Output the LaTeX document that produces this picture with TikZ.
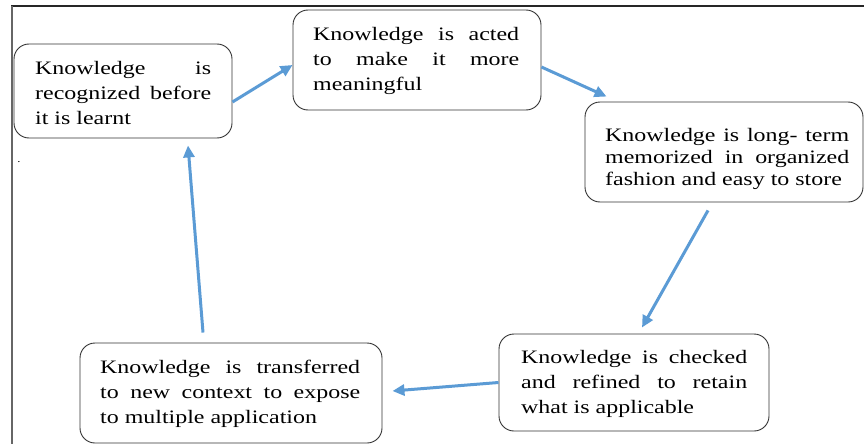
\documentclass[tikz,border=0pt]{standalone}
\usepackage{fontspec}
\setmainfont{Liberation Serif}[FakeStretch=1.26]
\usetikzlibrary{arrows.meta}
\definecolor{flowblue}{HTML}{5B9BD5}
\hyphenpenalty=10000
\exhyphenpenalty=10000
\tolerance=9999
\emergencystretch=2em
\newcommand\firststrut{\rule{0pt}{15pt}}

\begin{document}
\begin{tikzpicture}[x=1pt, y=-1pt,
  stagebox/.style={draw=black!80, line width=0.9pt, rounded corners=15pt, inner sep=0pt},
  stagetext/.style={anchor=north west, inner sep=0pt, align=justify,
    font=\fontsize{19pt}{25pt}\selectfont},
  flow/.style={draw=flowblue, line width=3pt, -{Triangle[length=12pt, width=11pt]}}]
\useasboundingbox (0,0) rectangle (864,444);

% page frame
\draw[black!85, line width=1.3pt] (11,6) -- (864,6);
\draw[black!60, line width=1.5pt] (12,6) -- (12,444);
\node[anchor=base, inner sep=0pt, font=\fontsize{10pt}{12pt}\selectfont] (dot) at (19,162) {.};

% stage boxes
\node[stagebox, minimum width=218pt, minimum height=94pt] (b1) at (123,91) {};
\node[stagebox, minimum width=248pt, minimum height=100pt] (b2) at (417,60) {};
\node[stagebox, minimum width=278pt, minimum height=100pt] (b3) at (724,152) {};
\node[stagebox, minimum width=270pt, minimum height=97pt] (b4) at (634,382.5) {};
\node[stagebox, minimum width=302pt, minimum height=100pt] (b5) at (231,393) {};

% stage texts
\node[stagetext, text width=176pt] (t1) at (35,59)
  {\firststrut Knowledge is recognized before it is learnt};
\node[stagetext, text width=206pt] (t2) at (313,25)
  {\firststrut Knowledge is acted to make it more meaningful};
\node[stagetext, text width=244pt, font=\fontsize{19pt}{22pt}\selectfont] (t3) at (605,126)
  {\firststrut Knowledge is long- term memorized in organized fashion and easy to store};
\node[stagetext, text width=226pt] (t4) at (521,348)
  {\firststrut Knowledge is checked and refined to retain what is applicable};
\node[stagetext, text width=260pt] (t5) at (100,358)
  {\firststrut Knowledge is transferred to new context to expose\linebreak to multiple application};

% cycle arrows
\draw[flow] ([shift={(0,11)}]b1.east) -- ([shift={(0,5)}]b2.west);
\draw[flow] ([shift={(0,7)}]b2.east) -- ([shift={(22,-5)}]b3.north west);
\draw[flow] ([shift={(-16,8)}]b3.south) -- ([shift={(8,-6)}]b4.north);
\draw[flow] (b4.west) -- ([shift={(10,-2)}]b5.east);
\draw[flow] ([shift={(-28,-10)}]b5.north) -- ([shift={(65,7)}]b1.south);
\end{tikzpicture}
\end{document}
